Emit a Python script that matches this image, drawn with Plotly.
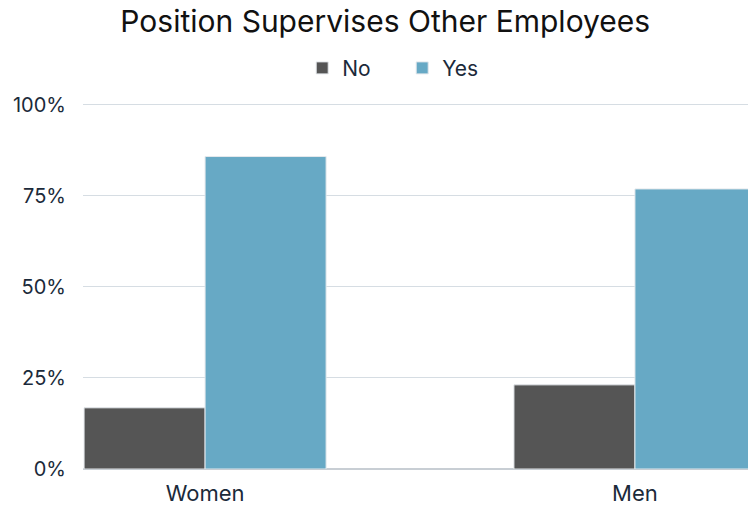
import plotly.graph_objects as go

groups = ["Women", "Men"]
no_pct = [16.8, 23.1]
yes_pct = [85.8, 76.9]
y_ticks = [0, 25, 50, 75, 100]
y_tick_text = ["0%", "25%", "50%", "75%", "100%"]

FONT = "Inter, Lato, sans-serif"
TEXT = "#1b2a3a"

fig = go.Figure()
fig.add_trace(go.Bar(
    name="No", x=groups, y=no_pct,
    marker=dict(color="#555555", line=dict(color="#e4e8ec", width=1)),
))
fig.add_trace(go.Bar(
    name="Yes", x=groups, y=yes_pct,
    marker=dict(color="#67a9c5", line=dict(color="#e4e8ec", width=1)),
))

fig.update_layout(
    width=748, height=505,
    margin=dict(l=83, r=0, t=103, b=36, autoexpand=False),
    paper_bgcolor="white", plot_bgcolor="white",
    barmode="group", bargap=0.437, bargroupgap=0.0,
    title=dict(text="Position Supervises Other Employees", x=0.515, xanchor="center",
               y=0.958, yanchor="middle",
               font=dict(family=FONT, size=30, color="#111111")),
    legend=dict(orientation="h", x=0.48, xanchor="center", y=1.095, yanchor="middle",
                font=dict(family=FONT, size=21, color=TEXT), itemwidth=30,
                entrywidth=55, traceorder="normal"),
    font=dict(family=FONT, color=TEXT),
    showlegend=True,
)
fig.update_xaxes(
    type="category", range=[-0.284, 1.263], showgrid=False, automargin=False,
    tickfont=dict(family=FONT, size=22, color=TEXT), ticks="",
    showline=False, ticklabelstandoff=9,
)
fig.update_yaxes(
    range=[0, 100.5], tickvals=y_ticks, ticktext=y_tick_text, automargin=False,
    showgrid=True, gridcolor="#d6dde3", gridwidth=1,
    zeroline=True, zerolinecolor="#c8ced4", zerolinewidth=1.5,
    tickfont=dict(family=FONT, size=20, color=TEXT), ticks="", ticklabelstandoff=16,
)

fig.write_html("out.html")
